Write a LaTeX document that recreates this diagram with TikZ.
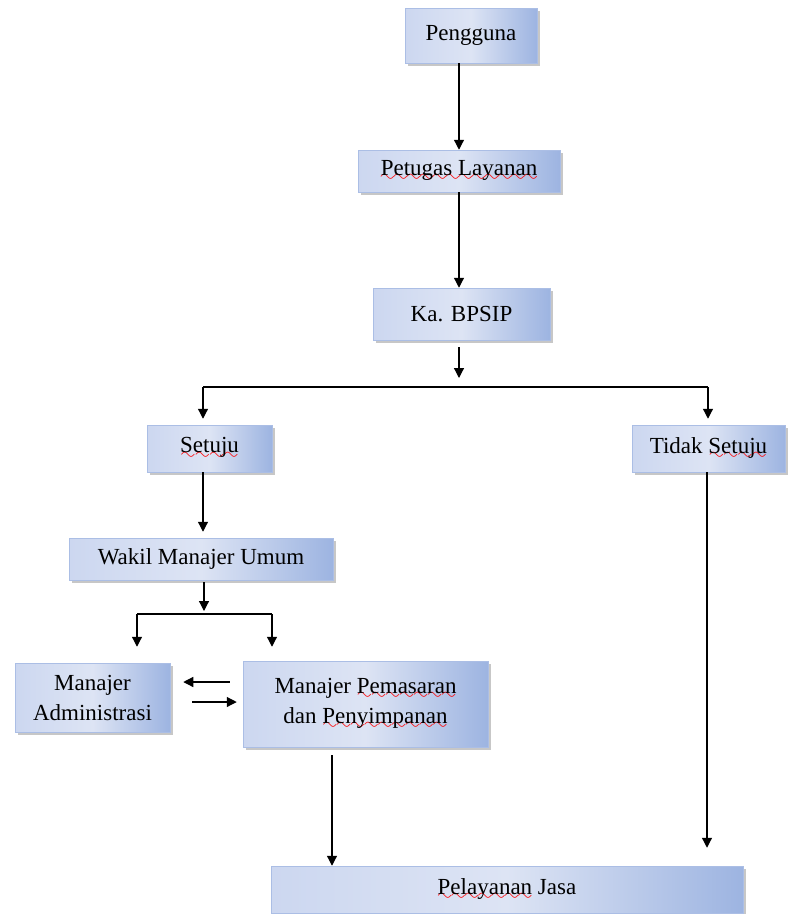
\documentclass[tikz,border=0pt]{standalone}
\usepackage{fontspec}
\setmainfont{Liberation Serif}
\usepackage{tikz}
\usetikzlibrary{arrows.meta,shadows}
\definecolor{boxlt}{HTML}{CCD7F0}
\definecolor{boxmd}{HTML}{DDE4F4}
\definecolor{boxdk}{HTML}{9DB4E1}
\definecolor{boxedge}{HTML}{ABBEE5}
\font\wavefnt=lasy10 at 19pt
\newcommand{\redwave}[1]{\setbox0\hbox{#1}\rlap{\lower6.5pt\hbox to\wd0{\color{red}\xleaders\hbox{\wavefnt\char58}\hfil}}\box0{}}
\tikzset{
	box/.style={draw=boxedge, line width=0.5pt, left color=boxlt, right color=boxdk, middle color=boxmd, drop shadow={shadow xshift=2.5pt, shadow yshift=-2.5pt, fill=black!40, opacity=0.55}, font=\fontsize{23}{30}\selectfont, align=center, inner sep=0pt},
	arr/.style={-{Triangle[length=10pt, width=10pt]}, line width=1.2pt},
	bar/.style={line width=1.2pt}
}
\begin{document}
\begin{tikzpicture}[x=1pt,y=-1pt]
	\useasboundingbox (0,0) rectangle (792,914);

	\node [box, minimum width=132, minimum height=55] (pengguna) at (471, 35.5) {Pengguna};
	\node [box, minimum width=202, minimum height=42] (petugas) at (459, 171) {\redwave{Petugas Layanan}};
	\node [box, minimum width=177, minimum height=52] (bpsip) at (461.5, 314) {Ka. BPSIP};

	\node [box, minimum width=125, minimum height=47] (setuju) at (209.5, 448.5) {\redwave{Setuju}};
	\node [box, minimum width=153, minimum height=47] (tidak) at (708.5, 448.5) {Tidak \redwave{Setuju}};

	\node [box, minimum width=264, minimum height=42] (wakil) at (201, 559) {Wakil Manajer Umum};
	\node [box, minimum width=155, minimum height=69] (admin) at (92.5, 697.5) {Manajer\\Administrasi};
	\node [box, minimum width=245, minimum height=86] (pemasaran) at (365.5, 704) {Manajer \redwave{Pemasaran}\\dan \redwave{Penyimpanan}};

	\node [box, minimum width=472, minimum height=47] (pelayanan) at (507, 889.5) {\redwave{Pelayanan} Jasa};

	\coordinate (split1) at (459, 387);
	\coordinate (split1L) at (203, 387);
	\coordinate (split1R) at (708, 387);
	\coordinate (split2) at (204, 614);
	\coordinate (split2L) at (137, 614);
	\coordinate (split2R) at (272, 614);

	\draw [arr] (pengguna.south -| petugas) to (petugas.north);
	\draw [arr] (petugas.south) to (bpsip.north -| petugas);
	\draw [arr, shorten <=7pt, shorten >=9pt] (bpsip.south -| petugas) to (split1);

	\draw [bar] (split1L) to (split1R);
	\draw [arr, shorten >=6pt] (split1L) to (split1L |- setuju.north);
	\draw [arr, shorten >=6pt] (split1R) to (split1R |- tidak.north);

	\draw [arr, shorten >=6pt] (split1L |- setuju.south) to (split1L |- wakil.north);
	\draw [arr, shorten <=2pt, shorten >=3pt] (wakil.south -| split2) to (split2);

	\draw [bar] (split2L) to (split2R);
	\draw [arr, shorten >=16pt] (split2L) to (split2L |- admin.north);
	\draw [arr, shorten >=14pt] (split2R) to (split2R |- pemasaran.north);

	\draw [arr, shorten <=13pt, shorten >=13pt] ([yshift=22pt]pemasaran.west) to ([yshift=22pt]pemasaran.west -| admin.east);
	\draw [arr, shorten <=22pt, shorten >=6pt] ([yshift=2pt]pemasaran.west -| admin.east) to ([yshift=2pt]pemasaran.west);

	\draw [arr, shorten <=8pt] ([xshift=-33.5pt]pemasaran.south) to ([xshift=-33.5pt]pemasaran.south |- pelayanan.north);
	\draw [arr, shorten >=18pt] ([xshift=-1.5pt]tidak.south) to ([xshift=-1.5pt]tidak.south |- pelayanan.north);
\end{tikzpicture}
\end{document}
